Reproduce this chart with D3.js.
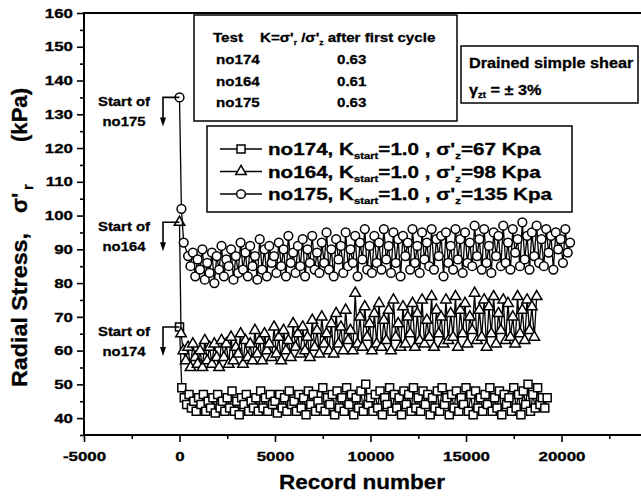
<!DOCTYPE html>
<html>
<head>
<meta charset="utf-8">
<script src="https://cdn.jsdelivr.net/npm/d3@7"></script>
<style>
body { margin: 0; background: #fff; }
text { font-family: "Liberation Sans", Arial, sans-serif; font-weight: bold; fill: #000; stroke: #000; stroke-width: 0.3; }
</style>
</head>
<body>
<div id="chart"></div>
<script>
// record numbers and radial stress (kPa)
const rec174 = [0, 120,
  250, 375, 500, 625, 750, 875, 1000, 1125, 1250, 1375, 1500, 1625, 1750, 1875, 2000, 2125,
  2250, 2375, 2500, 2625, 2750, 2875, 3000, 3125, 3250, 3375, 3500, 3625, 3750, 3875, 4000, 4125,
  4250, 4375, 4500, 4625, 4750, 4875, 5000, 5125, 5250, 5375, 5500, 5625, 5750, 5875, 6000, 6125,
  6250, 6375, 6500, 6625, 6750, 6875, 7000, 7125, 7250, 7375, 7500, 7625, 7750, 7875, 8000, 8125,
  8250, 8375, 8500, 8625, 8750, 8875, 9000, 9125, 9250, 9375, 9500, 9625, 9750, 9875, 10000, 10125,
  10250, 10375, 10500, 10625, 10750, 10875, 11000, 11125, 11250, 11375, 11500, 11625, 11750, 11875, 12000, 12125,
  12250, 12375, 12500, 12625, 12750, 12875, 13000, 13125, 13250, 13375, 13500, 13625, 13750, 13875, 14000, 14125,
  14250, 14375, 14500, 14625, 14750, 14875, 15000, 15125, 15250, 15375, 15500, 15625, 15750, 15875, 16000, 16125,
  16250, 16375, 16500, 16625, 16750, 16875, 17000, 17125, 17250, 17375, 17500, 17625, 17750, 17875, 18000, 18125,
  18250, 18375, 18500, 18625, 18750, 18875, 19000, 19125, 19250];
const val174 = [67, 49,
  46, 44, 47, 43, 45, 42, 46, 44, 47, 42, 45, 43, 46, 41.5, 47, 43,
  45, 42, 46, 43, 48, 42, 45, 41, 46, 44, 47, 42, 45, 43, 46, 42,
  48, 43, 46, 42, 47, 44, 45, 41.5, 47, 43, 46, 42, 48, 44, 45, 42,
  47, 43, 46, 41, 48, 44, 47, 42, 45, 43, 49, 42, 46, 44, 47, 41,
  48, 43, 46, 42, 49, 44, 47, 41, 46, 43, 48, 42, 50, 44, 46, 42,
  47, 43, 48, 41, 46, 44, 49, 42, 47, 43, 46, 41, 48, 44, 47, 42,
  49, 43, 46, 42, 48, 44, 47, 41, 46, 43, 48, 42, 49, 44, 46, 41,
  47, 43, 48, 42, 46, 44, 49, 42, 47, 41, 48, 43, 46, 42, 47, 44,
  49, 42, 46, 43, 48, 41, 47, 44, 46, 42, 49, 43, 47, 41, 48, 44,
  50, 42, 47, 43, 49, 44, 46, 43, 46];

const rec164 = [0, 80, 200,
  325, 450, 575, 700, 825, 950, 1075, 1200, 1325, 1450, 1575, 1700, 1825, 1950, 2075, 2200,
  2325, 2450, 2575, 2700, 2825, 2950, 3075, 3200, 3325, 3450, 3575, 3700, 3825, 3950, 4075, 4200,
  4325, 4450, 4575, 4700, 4825, 4950, 5075, 5200, 5325, 5450, 5575, 5700, 5825, 5950, 6075, 6200,
  6325, 6450, 6575, 6700, 6825, 6950, 7075, 7200, 7325, 7450, 7575, 7700, 7825, 7950, 8075, 8200,
  8325, 8450, 8575, 8700, 8825, 8950, 9075, 9200, 9325, 9450, 9575, 9700, 9825, 9950, 10075, 10200,
  10325, 10450, 10575, 10700, 10825, 10950, 11075, 11200, 11325, 11450, 11575, 11700, 11825, 11950, 12075, 12200,
  12325, 12450, 12575, 12700, 12825, 12950, 13075, 13200, 13325, 13450, 13575, 13700, 13825, 13950, 14075, 14200,
  14325, 14450, 14575, 14700, 14825, 14950, 15075, 15200, 15325, 15450, 15575, 15700, 15825, 15950, 16075, 16200,
  16325, 16450, 16575, 16700, 16825, 16950, 17075, 17200, 17325, 17450, 17575, 17700, 17825, 17950, 18075, 18200,
  18325, 18450, 18575, 18700];
const val164 = [98, 65, 60,
  57, 61, 55, 62, 58, 56, 60, 55, 63, 57, 61, 56, 62, 58, 55, 63,
  58, 62, 56, 64, 57, 61, 59, 65, 56, 63, 58, 62, 57, 66, 59, 63,
  57, 65, 60, 62, 58, 67, 59, 64, 57, 66, 60, 63, 58, 68, 61, 65,
  59, 67, 60, 64, 58, 69, 61, 66, 59, 70, 62, 65, 60, 68, 59, 71,
  62, 67, 60, 72, 63, 66, 60, 77, 62, 70, 61, 73, 64, 68, 60, 71,
  62, 74, 61, 69, 63, 72, 60, 75, 64, 68, 61, 73, 62, 70, 65, 74,
  61, 71, 63, 75, 62, 69, 64, 76, 61, 72, 65, 70, 62, 75, 63, 71,
  64, 76, 61, 72, 65, 74, 62, 70, 66, 77, 63, 72, 64, 75, 61, 73,
  65, 76, 62, 71, 66, 75, 63, 74, 64, 70, 62, 76, 65, 72, 63, 75,
  66, 73, 64, 76];

const rec175 = [0, 100, 220, 450,
  575, 700, 825, 950, 1075, 1200, 1325, 1450, 1575, 1700, 1825, 1950, 2075, 2200, 2325, 2450,
  2575, 2700, 2825, 2950, 3075, 3200, 3325, 3450, 3575, 3700, 3825, 3950, 4075, 4200, 4325, 4450,
  4575, 4700, 4825, 4950, 5075, 5200, 5325, 5450, 5575, 5700, 5825, 5950, 6075, 6200, 6325, 6450,
  6575, 6700, 6825, 6950, 7075, 7200, 7325, 7450, 7575, 7700, 7825, 7950, 8075, 8200, 8325, 8450,
  8575, 8700, 8825, 8950, 9075, 9200, 9325, 9450, 9575, 9700, 9825, 9950, 10075, 10200, 10325, 10450,
  10575, 10700, 10825, 10950, 11075, 11200, 11325, 11450, 11575, 11700, 11825, 11950, 12075, 12200, 12325, 12450,
  12575, 12700, 12825, 12950, 13075, 13200, 13325, 13450, 13575, 13700, 13825, 13950, 14075, 14200, 14325, 14450,
  14575, 14700, 14825, 14950, 15075, 15200, 15325, 15450, 15575, 15700, 15825, 15950, 16075, 16200, 16325, 16450,
  16575, 16700, 16825, 16950, 17075, 17200, 17325, 17450, 17575, 17700, 17825, 17950, 18075, 18200, 18325, 18450,
  18575, 18700, 18825, 18950, 19075, 19200, 19325, 19450, 19575, 19700, 19825, 19950, 20075, 20200, 20325, 20450];
const val175 = [135, 102, 92, 88,
  85, 89, 82, 87, 84, 90, 81, 86, 83, 89, 80, 88, 84, 91, 82, 87,
  85, 90, 81, 88, 83, 92, 84, 89, 82, 91, 85, 88, 81, 93, 84, 90,
  82, 91, 86, 88, 83, 92, 85, 90, 82, 94, 86, 89, 83, 91, 85, 93,
  82, 90, 86, 94, 84, 89, 83, 92, 86, 95, 84, 90, 82, 93, 87, 91,
  83, 95, 85, 90, 86, 94, 82, 92, 87, 96, 84, 91, 83, 94, 86, 92,
  84, 96, 87, 91, 83, 95, 86, 93, 82, 94, 88, 92, 84, 96, 86, 91,
  83, 95, 87, 92, 85, 96, 84, 93, 88, 94, 82, 95, 86, 91, 84, 96,
  87, 93, 83, 95, 86, 92, 85, 97, 88, 93, 84, 96, 86, 91, 83, 95,
  88, 94, 85, 97, 86, 92, 84, 96, 89, 93, 85, 98, 87, 94, 84, 95,
  88, 97, 86, 93, 85, 96, 89, 94, 84, 95, 90, 93, 86, 96, 89, 92];

const xTicks = [-5000, 0, 5000, 10000, 15000, 20000];
const xMinor = [-2500, 2500, 7500, 12500, 17500, 22500];
const yTicks = [40, 50, 60, 70, 80, 90, 100, 110, 120, 130, 140, 150, 160];
const yMinor = [35, 45, 55, 65, 75, 85, 95, 105, 115, 125, 135, 145, 155];

const tableTests = ["no174", "no164", "no175"];
const tableK = ["0.63", "0.61", "0.63"];
const legendTests = ["no174", "no164", "no175"];
const legendSigma = ["67", "98", "135"];

const x = d3.scaleLinear().domain([-5000, 25000]).range([84, 657]);
const y = d3.scaleLinear().domain([35, 160]).range([435, 13]);

const svg = d3.select("#chart").append("svg")
  .attr("width", 641).attr("height", 499);

// widen the Arial-like glyphs the way the scanned figure has them
function stretch(sel, k) {
  sel.each(function() {
    const w = this.getComputedTextLength();
    d3.select(this).attr("textLength", w * k).attr("lengthAdjust", "spacingAndGlyphs");
  });
}

// axes
svg.append("g").attr("transform", "translate(0,435)")
  .call(d3.axisBottom(x).tickValues(xTicks).tickSize(7).tickPadding(10).tickFormat(d => String(d)));
svg.append("g").attr("transform", "translate(0,435)")
  .call(d3.axisBottom(x).tickValues(xMinor).tickSize(4).tickFormat(""));
svg.append("g").attr("transform", "translate(84,0)")
  .call(d3.axisLeft(y).tickValues(yTicks).tickSize(7).tickPadding(4));
svg.append("g").attr("transform", "translate(84,0)")
  .call(d3.axisLeft(y).tickValues(yMinor).tickSize(4).tickFormat(""));
svg.selectAll(".domain").remove();
svg.selectAll(".tick line").attr("stroke", "#000").attr("stroke-width", 1.6);
svg.selectAll(".tick text").attr("font-size", 13).attr("fill", "#000")
  .style("font-family", "'Liberation Sans', Arial, sans-serif");
stretch(svg.selectAll(".tick text"), 1.3);

svg.append("rect")
  .attr("x", x(-5000)).attr("y", y(160))
  .attr("width", x(25000) - x(-5000)).attr("height", y(35) - y(160))
  .attr("fill", "none").attr("stroke", "#000").attr("stroke-width", 2);

// axis titles
const xt = svg.append("text").attr("x", 362).attr("y", 489)
  .attr("text-anchor", "middle").attr("font-size", 21).text("Record number");
stretch(xt, 1.07);

const yt = svg.append("g").attr("transform", "translate(27,387) rotate(-90)")
  .attr("font-size", 22);
yt.append("text").attr("x", 0).text("Radial Stress,")
  .attr("textLength", 154).attr("lengthAdjust", "spacingAndGlyphs");
yt.append("text").attr("x", 174).text("σ");
yt.append("text").attr("x", 189).text("'");
yt.append("text").attr("x", 197).attr("y", 6).attr("font-size", 15).text("r");
yt.append("text").attr("x", 245).text("(kPa)")
  .attr("textLength", 54).attr("lengthAdjust", "spacingAndGlyphs");

// series
const series = [
  { rec: rec174, val: val174, sym: d3.symbolSquare, size: 64 },
  { rec: rec164, val: val164, sym: d3.symbolTriangle, size: 48 },
  { rec: rec175, val: val175, sym: d3.symbolCircle, size: 60 }
];
const line = d3.line().x(d => x(d[0])).y(d => y(d[1]));

series.forEach(s => {
  const pts = d3.zip(s.rec, s.val);
  const g = svg.append("g");
  g.append("path").attr("d", line(pts))
    .attr("fill", "none").attr("stroke", "#000").attr("stroke-width", 1.3);
  g.selectAll("path.mark").data(pts).join("path").attr("class", "mark")
    .attr("transform", d => `translate(${x(d[0])},${y(d[1])})`)
    .attr("d", d3.symbol(s.sym, s.size))
    .attr("fill", "#fff").attr("stroke", "#000").attr("stroke-width", 1.5);
});

// "Start of" callouts
series.forEach((s, i) => {
  const px = x(s.rec[0]), py = y(s.val[0]);
  const ax = 163;
  svg.append("path")
    .attr("d", `M${px},${py}H${ax}V${py + 22}`)
    .attr("fill", "none").attr("stroke", "#000").attr("stroke-width", 1.6);
  svg.append("path")
    .attr("d", `M${ax - 3},${py + 20}L${ax + 3},${py + 20}L${ax},${py + 29}Z`)
    .attr("fill", "#000");
  const t1 = svg.append("text").attr("x", 124).attr("y", py + 9)
    .attr("text-anchor", "middle").attr("font-size", 13.5).text("Start of");
  const t2 = svg.append("text").attr("x", 124).attr("y", py + 29)
    .attr("text-anchor", "middle").attr("font-size", 13.5).text(legendTests[i]);
  stretch(t1, 1.1);
  stretch(t2, 1.1);
});

// K table
const tb = svg.append("g");
tb.append("rect").attr("x", 194).attr("y", 15).attr("width", 263).attr("height", 106)
  .attr("fill", "#fff").attr("stroke", "#000").attr("stroke-width", 1.5);
const th1 = tb.append("text").attr("x", 213).attr("y", 42).attr("font-size", 13.5).text("Test");
stretch(th1, 1.12);
const th2 = tb.append("text").attr("x", 260).attr("y", 42).attr("font-size", 13.5);
th2.append("tspan").text("K=σ'");
th2.append("tspan").attr("dy", 3).attr("font-size", 7.5).text("r");
th2.append("tspan").attr("dy", -3).text(" /σ'");
th2.append("tspan").attr("dy", 3).attr("font-size", 7.5).text("z");
th2.append("tspan").attr("dy", -3).text(" after first cycle");
stretch(th2, 1.12);
tableTests.forEach((t, i) => {
  const a = tb.append("text").attr("x", 216).attr("y", 64 + i * 21.5).attr("font-size", 13.5).text(t);
  const b = tb.append("text").attr("x", 337).attr("y", 64 + i * 21.5).attr("font-size", 13.5).text(tableK[i]);
  stretch(a, 1.12);
  stretch(b, 1.12);
});

// test condition box
const db = svg.append("g");
db.append("rect").attr("x", 461).attr("y", 46).attr("width", 177).attr("height", 57)
  .attr("fill", "#fff").attr("stroke", "#000").attr("stroke-width", 1.5);
const d1 = db.append("text").attr("x", 469).attr("y", 68).attr("font-size", 14.5).text("Drained simple shear");
stretch(d1, 1.12);
const d2 = db.append("text").attr("x", 469).attr("y", 95).attr("font-size", 14.5);
d2.append("tspan").text("γ");
d2.append("tspan").attr("dy", 3).attr("font-size", 8.5).text("zt");
d2.append("tspan").attr("dy", -3).text(" = ± 3%");
stretch(d2, 1.12);

// legend
const lg = svg.append("g");
lg.append("rect").attr("x", 207).attr("y", 126).attr("width", 365).attr("height", 86)
  .attr("fill", "#fff").attr("stroke", "#000").attr("stroke-width", 1.5);
series.forEach((s, i) => {
  const ly = 149 + i * 22.5;
  lg.append("line").attr("x1", 220).attr("x2", 262).attr("y1", ly).attr("y2", ly)
    .attr("stroke", "#000").attr("stroke-width", 1.3);
  lg.append("path").attr("transform", `translate(241,${ly})`)
    .attr("d", d3.symbol(s.sym, s.size))
    .attr("fill", "#fff").attr("stroke", "#000").attr("stroke-width", 1.5);
  const t = lg.append("text").attr("x", 268).attr("y", ly + 6).attr("font-size", 16.5);
  t.append("tspan").text(legendTests[i] + ", K");
  t.append("tspan").attr("dy", 4).attr("font-size", 9).text("start");
  t.append("tspan").attr("dy", -4).text("=1.0 , σ'");
  t.append("tspan").attr("dy", 4).attr("font-size", 9).text("z");
  t.append("tspan").attr("dy", -4).text("=" + legendSigma[i] + " Kpa");
  stretch(t, 1.25);
});
</script>
</body>
</html>
